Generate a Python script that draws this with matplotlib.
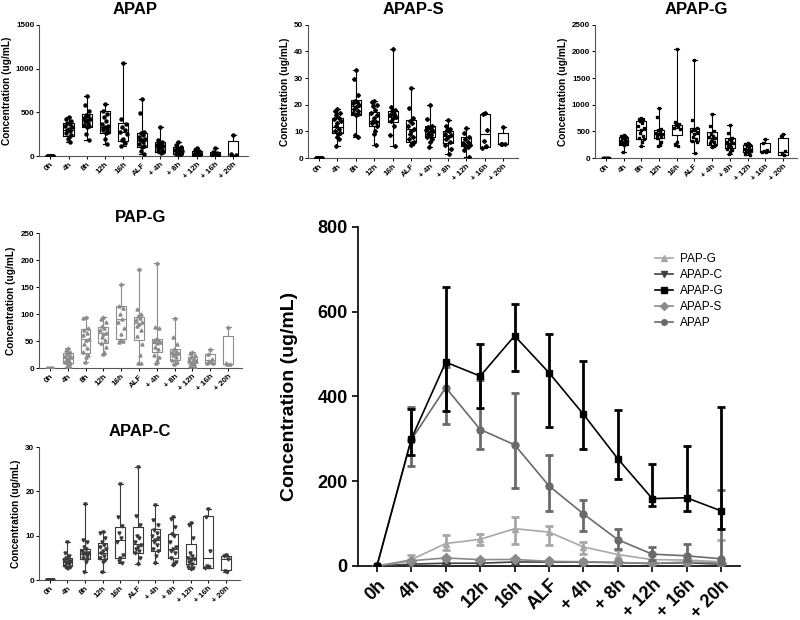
import numpy as np
import matplotlib.pyplot as plt

plt.rcParams['font.family'] = ['Liberation Sans', 'DejaVu Sans']
plt.rcParams['font.weight'] = 'bold'

times = ['0h', '4h', '8h', '12h', '16h', 'ALF', '+ 4h', '+ 8h', '+ 12h', '+ 16h', '+ 20h']

# box stats per time point: (min, q1, median, q3, max)
apap_box = [(0, 0, 0, 0, 0), (165, 229, 300, 382, 443), (183, 328, 412, 477, 687),
            (137, 267, 328, 515, 595), (118, 176, 279, 374, 1061), (23, 107, 191, 267, 649),
            (38, 50, 126, 164, 336), (11, 23, 61, 107, 164), (4, 8, 23, 61, 95),
            (8, 8, 23, 50, 95), (8, 8, 8, 176, 240)]
apap_pts = [[0] * 12,
            [443, 420, 400, 385, 370, 350, 330, 310, 300, 285, 260, 240, 220, 200, 165],
            [687, 590, 520, 470, 460, 440, 420, 410, 400, 380, 360, 340, 330, 250, 183],
            [595, 520, 480, 450, 400, 370, 340, 330, 320, 310, 300, 280, 270, 200, 137],
            [1061, 420, 370, 330, 300, 280, 250, 200, 180, 150, 118],
            [649, 490, 280, 260, 240, 220, 200, 190, 180, 160, 140, 120, 100, 60, 23],
            [336, 180, 160, 150, 140, 130, 120, 110, 90, 70, 55, 45, 38],
            [164, 130, 100, 90, 80, 70, 60, 55, 50, 40, 30, 20, 11],
            [95, 70, 55, 45, 40, 30, 25, 20, 15, 10, 5, 4],
            [95, 50, 40, 25, 20, 10, 8],
            [240, 20, 15, 8]]

apaps_box = [(0, 0, 0, 0, 0), (4.6, 9.4, 11.8, 15, 18.4), (7.9, 16.3, 19.4, 21.9, 33.1),
             (5, 11.9, 14.1, 17.4, 21.5), (4.6, 13.4, 15.6, 17.8, 40.9), (5, 5.9, 10.9, 14.4, 26.3),
             (4, 8.1, 10, 11.9, 20), (1.6, 5.6, 8.4, 10.3, 14.4), (0.6, 4.4, 5, 7.9, 11.3),
             (3.8, 4, 9, 16.5, 16.9), (5.4, 5.4, 5.4, 9.6, 11.6)]
apaps_pts = [[0] * 12,
             [18.4, 17.8, 17, 16, 15, 14.5, 14, 13, 12, 11, 10, 9.5, 9, 8, 7, 4.6],
             [33.1, 29.5, 23.5, 21.5, 21, 20.5, 20, 19, 18.5, 17.5, 17, 16.5, 16, 8.5, 7.9],
             [21.5, 21, 20, 19.5, 18, 17, 16, 15, 14, 13.5, 13, 12, 10, 9, 5],
             [40.9, 19, 18, 17.5, 16.5, 16, 15.5, 15, 14, 12, 8.8, 4.6],
             [26.3, 18.8, 15, 14, 13, 12, 11, 10, 9, 8, 7, 6, 5.5, 5],
             [20, 14.5, 12, 11.5, 11, 10.5, 10, 9.5, 9, 8.5, 8, 7, 6, 4],
             [14.4, 12, 11, 10.5, 10, 9, 8.5, 8, 7, 6, 5, 3.5, 1.6],
             [11.3, 9.5, 8, 7, 6, 5.5, 5, 4.5, 4.4, 4.2, 3, 0.6],
             [16.9, 16.5, 10.5, 6.5, 4.5, 3.8],
             [11.6, 5.4, 5.4, 5.4]]

apapg_box = [(0, 0, 0, 0, 0), (106, 238, 313, 388, 438), (219, 356, 531, 688, 750),
             (219, 375, 450, 531, 931), (219, 438, 563, 625, 2044), (94, 325, 513, 563, 1831),
             (200, 250, 375, 481, 831), (81, 188, 269, 375, 625), (50, 113, 169, 238, 275),
             (106, 106, 125, 281, 356), (63, 63, 106, 375, 450)]
apapg_pts = [[0] * 12,
             [438, 420, 400, 380, 350, 330, 320, 310, 300, 290, 280, 260, 240, 106],
             [750, 740, 720, 690, 650, 600, 560, 520, 480, 420, 380, 350, 300, 219],
             [931, 780, 540, 520, 500, 480, 460, 450, 430, 400, 380, 300, 250, 219],
             [2044, 680, 640, 620, 600, 560, 540, 300, 260, 219],
             [1831, 720, 560, 540, 520, 500, 480, 450, 400, 350, 320, 300, 94],
             [831, 600, 500, 460, 420, 400, 380, 350, 330, 300, 280, 250, 230, 200],
             [625, 480, 380, 350, 320, 300, 280, 260, 230, 200, 180, 150, 120, 81],
             [275, 260, 240, 220, 200, 180, 160, 140, 120, 100, 80, 50],
             [356, 280, 150, 130, 110, 106],
             [450, 420, 130, 100, 63]]

papg_box = [(0, 0, 0, 0, 0), (3, 9.3, 18.5, 27.8, 37), (12.3, 29, 53.7, 72, 95.7),
            (26.5, 46, 66, 77, 95.7), (49.4, 53.7, 90.7, 115, 156), (9.3, 52.5, 83.3, 94.4, 183),
            (10.5, 30.9, 47.5, 53.7, 194), (8, 15.4, 26.5, 35.8, 92.6), (3, 9.3, 14.2, 21.6, 30.9),
            (9.3, 10.5, 15.4, 26.5, 35.8), (8, 8, 8, 60, 77)]
papg_pts = [[0] * 12,
            [37, 34, 30, 28, 25, 22, 20, 18, 16, 14, 12, 10, 8, 5, 3],
            [95.7, 93, 75, 70, 66, 62, 55, 52, 45, 38, 30, 25, 20, 12.3],
            [95.7, 92, 85, 78, 74, 70, 66, 63, 58, 52, 47, 40, 30, 26.5],
            [156, 115, 112, 100, 92, 86, 75, 63, 52, 50, 49.4],
            [183, 110, 100, 96, 93, 90, 85, 82, 78, 70, 60, 45, 25, 10, 9.3],
            [194, 77, 75, 55, 52, 50, 48, 46, 40, 35, 25, 20, 15, 10.5],
            [92.6, 58, 45, 36, 32, 30, 28, 26, 24, 20, 16, 12, 10, 8],
            [30.9, 28, 24, 20, 18, 16, 14, 12, 10, 8, 5, 3],
            [35.8, 26, 18, 14, 12, 10, 9.3],
            [77, 9, 8.5, 8]]

apapc_box = [(0, 0, 0, 0, 0), (2.6, 3.2, 4.1, 5.0, 8.6), (1.9, 4.65, 5.85, 7.1, 17.1),
             (1.9, 4.65, 6.15, 8.25, 10.9), (3.75, 4.9, 9.0, 12.0, 21.6), (3.6, 6.15, 8.1, 11.85, 25.4),
             (3.9, 6.6, 9.0, 11.4, 16.9), (3.4, 4.9, 7.1, 10.35, 14.25), (2.4, 3.6, 4.9, 8.1, 12.75),
             (2.8, 2.8, 4.9, 14.4, 16.1), (1.9, 2.25, 4.7, 5.5, 5.6)]
apapc_pts = [[0] * 12,
             [8.6, 6.0, 5.5, 5.0, 4.8, 4.5, 4.2, 4.0, 3.8, 3.5, 3.2, 3.0, 2.8, 2.6],
             [17.1, 9.0, 8.5, 7.5, 7.0, 6.5, 6.2, 6.0, 5.8, 5.5, 5.0, 4.8, 4.0, 1.9],
             [10.9, 10.5, 9.5, 8.5, 8.0, 7.5, 7.0, 6.5, 6.0, 5.5, 5.0, 4.5, 4.0, 1.9],
             [21.6, 14.2, 12.2, 10.5, 9.5, 8.5, 5.6, 5.0, 4.2, 3.75],
             [25.4, 14.5, 12.5, 10, 9.5, 8.5, 8.0, 7.5, 7.0, 6.5, 6.0, 5.0, 3.6],
             [16.9, 13.5, 12.5, 11.2, 10.5, 10.0, 9.5, 9.0, 8.5, 8.0, 7.0, 6.5, 5.5, 3.9],
             [14.25, 13.8, 12.0, 10.3, 10.0, 8.5, 7.5, 7.0, 6.5, 6.0, 5.0, 4.0, 3.5, 3.4],
             [12.75, 12.5, 9.5, 6.0, 5.5, 5.0, 4.8, 4.5, 4.0, 3.5, 3.0, 2.6, 2.4],
             [16.1, 14.2, 6.5, 3.2, 3.0, 2.8],
             [5.6, 5.4, 4.7, 2.0, 1.9]]

# summary panel: mean with lower / upper error
apap_mean = [0, 298, 421, 322, 286, 189, 123, 62, 28, 24, 17]
apap_lo = [0, 237, 336, 277, 185, 129, 82, 41, 13, 12, 5]
apap_hi = [0, 375, 470, 438, 408, 263, 155, 88, 46, 53, 180]
apapg_mean = [0, 300, 481, 448, 543, 456, 358, 253, 159, 161, 130]
apapg_lo = [0, 263, 366, 373, 460, 328, 276, 206, 141, 130, 88]
apapg_hi = [0, 370, 658, 523, 619, 548, 484, 367, 241, 284, 374]
papg_mean = [0, 15, 53, 63, 88, 80, 45, 27, 15, 14, 10]
papg_lo = [0, 10, 37, 49, 51, 49, 29, 17, 9, 8, 5]
papg_hi = [0, 27, 72, 76, 116, 94, 57, 37, 25, 25, 61]
apaps_mean = [0, 12.5, 19, 15, 15.5, 11, 10, 8.3, 6, 9.5, 7]
apaps_lo = [0, 9.5, 16, 12, 13, 8, 8, 6, 4.5, 4.5, 5.4]
apaps_hi = [0, 15, 22, 17.5, 18, 14.5, 12, 10.5, 8, 16, 9.6]
apapc_mean = [0, 4.4, 6.5, 6.5, 9.5, 9.2, 9.3, 7.8, 5.8, 7.8, 4.2]
apapc_lo = [0, 3.2, 4.7, 4.7, 4.9, 6.2, 6.6, 4.9, 3.6, 2.8, 2.3]
apapc_hi = [0, 5.0, 7.1, 8.3, 12.0, 11.9, 11.4, 10.4, 8.1, 14.4, 5.5]

jitter = [0.0, -0.12, 0.12, -0.06, 0.06, -0.17, 0.17, 0.0, -0.09, 0.09, -0.14, 0.14, 0.03, -0.03, 0.1, -0.1]

fig = plt.figure(figsize=(8, 6.2), dpi=100)


def box_panel(rect, title, boxes, pts, ymax, ystep, marker, color, msize, tx=0.5):
    ax = fig.add_axes(rect)
    stats = [dict(whislo=b[0], q1=b[1], med=b[2], q3=b[3], whishi=b[4], fliers=[]) for b in boxes]
    ax.bxp(stats, positions=range(len(times)), widths=0.55, showfliers=False,
           boxprops=dict(color=color, lw=0.8), whiskerprops=dict(color=color, lw=0.8),
           capprops=dict(color=color, lw=0.8), medianprops=dict(color=color, lw=0.8),
           manage_ticks=False)
    for i, vals in enumerate(pts):
        xs = [i + jitter[k % len(jitter)] for k in range(len(vals))]
        ax.plot(xs, vals, ls='none', marker=marker, color=color, ms=msize, zorder=3)
    ax.set_xlim(-0.6, 10.8)
    ax.set_ylim(0, ymax)
    ax.set_yticks(np.arange(0, ymax + 1, ystep))
    ax.set_xticks(range(len(times)))
    ax.set_xticklabels(times, rotation=45, ha='right', rotation_mode='anchor', fontsize=5.8)
    ax.tick_params(axis='y', labelsize=5.8, length=2, width=0.7, pad=1.5)
    ax.tick_params(axis='x', length=2, width=0.7, pad=1.5)
    for lab in ax.get_xticklabels() + ax.get_yticklabels():
        lab.set_fontweight('bold')
    ax.spines['top'].set_visible(False)
    ax.spines['right'].set_visible(False)
    ax.spines['left'].set_color('#555555')
    ax.spines['bottom'].set_color('#555555')
    ax.set_ylabel('Concentration (ug/mL)', fontsize=7.3, fontweight='bold', labelpad=3)
    ax.set_title(title, fontsize=12, fontweight='bold', pad=8, x=tx)
    return ax


box_panel([0.049, 0.748, 0.261, 0.212], 'APAP', apap_box, apap_pts, 1500, 500, 'o', 'black', 2.2, tx=0.46)
box_panel([0.385, 0.745, 0.2625, 0.215], 'APAP-S', apaps_box, apaps_pts, 50, 10, 'D', 'black', 2.0)
box_panel([0.744, 0.745, 0.2525, 0.215], 'APAP-G', apapg_box, apapg_pts, 2500, 500, 's', 'black', 2.0)
box_panel([0.049, 0.406, 0.254, 0.218], 'PAP-G', papg_box, papg_pts, 250, 50, '^', '#8c8c8c', 2.2)
box_panel([0.049, 0.0645, 0.251, 0.2145], 'APAP-C', apapc_box, apapc_pts, 30, 10, 'v', '#3a3a3a', 2.2)

# summary panel
ax = fig.add_axes([0.4475, 0.0871, 0.4775, 0.5469])
x = np.arange(len(times))
series = [
    ('PAP-G', papg_mean, papg_lo, papg_hi, '^', '#a8a8a8', 3),
    ('APAP-C', apapc_mean, apapc_lo, apapc_hi, 'v', '#404040', 4),
    ('APAP-G', apapg_mean, apapg_lo, apapg_hi, 's', 'black', 6),
    ('APAP-S', apaps_mean, apaps_lo, apaps_hi, 'D', '#8a8a8a', 4),
    ('APAP', apap_mean, apap_lo, apap_hi, 'o', '#6a6a6a', 5),
]
handles = []
for name, m, lo, hi, mk, col, z in series:
    m = np.array(m, dtype=float)
    err = [m - np.array(lo, dtype=float), np.array(hi, dtype=float) - m]
    cont = ax.errorbar(x, m, yerr=err, color=col, marker=mk, ms=5, lw=1.2, elinewidth=2,
                       capsize=2.8, capthick=2, label=name, zorder=z)
    handles.append(cont[0])

ax.set_xlim(-0.55, 10.55)
ax.set_ylim(0, 800)
ax.set_yticks([0, 200, 400, 600, 800])
ax.set_xticks(x)
ax.set_xticklabels(times, rotation=45, ha='right', rotation_mode='anchor', fontsize=13)
ax.tick_params(axis='y', labelsize=13, length=4, width=1.2)
ax.tick_params(axis='x', length=4, width=1.2)
for lab in ax.get_xticklabels() + ax.get_yticklabels():
    lab.set_fontweight('bold')
ax.spines['top'].set_visible(False)
ax.spines['right'].set_visible(False)
ax.spines['left'].set_linewidth(1.2)
ax.spines['bottom'].set_linewidth(1.2)
ax.set_ylabel('Concentration (ug/mL)', fontsize=14, fontweight='bold', labelpad=14)

leg = ax.legend(handles, [s[0] for s in series], loc='upper right', bbox_to_anchor=(0.985, 0.955),
                frameon=False, fontsize=8.5, handlelength=1.5, labelspacing=0.35, handletextpad=0.6,
                markerscale=0.8)
for t in leg.get_texts():
    t.set_fontweight('normal')

fig.savefig('out.png', dpi=100)
